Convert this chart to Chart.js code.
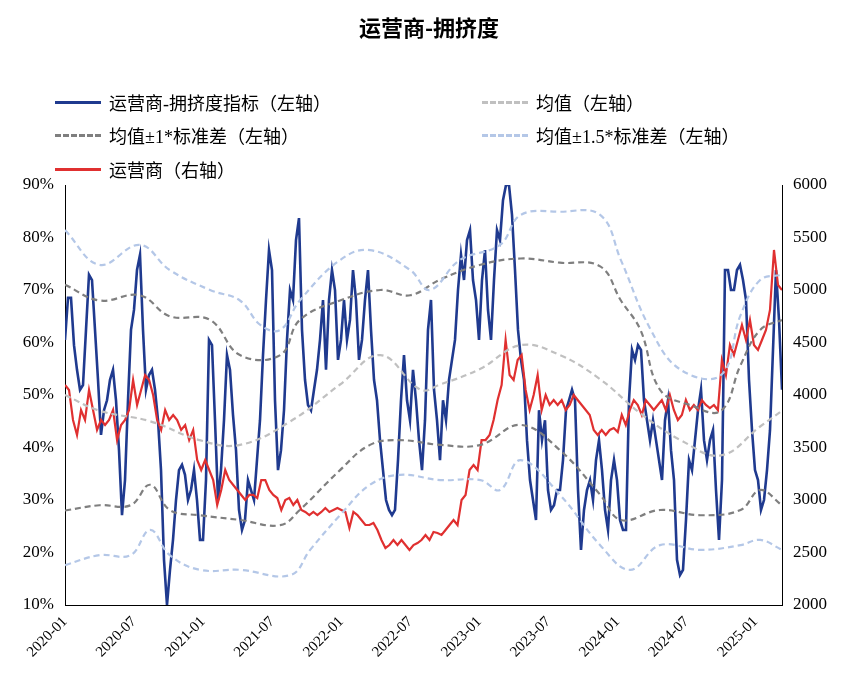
<!DOCTYPE html>
<html>
<head>
<meta charset="utf-8">
<script src="https://cdn.jsdelivr.net/npm/chart.js@4"></script>
<style>
body{margin:0;background:#fff;}
#wrap{position:relative;width:858px;height:694px;}
#title{position:absolute;top:10px;left:0;width:858px;text-align:center;font:bold 22px "Noto Sans CJK SC",serif;color:#000;}
.lg{position:absolute;font:18px "Liberation Serif","Noto Sans CJK SC";color:#000;display:flex;align-items:center;}
.ln{width:46px;height:0;margin-right:8px;}
</style>
</head>
<body>
<div id="wrap">
<div id="title">运营商-拥挤度</div>
<div class="lg" style="left:55px;top:89px"><span class="ln" style="border-top:3px solid #1f3a8f"></span>运营商-拥挤度指标（左轴）</div>
<div class="lg" style="left:482px;top:89px"><span class="ln" style="border-top:3px dashed #c0c0c0"></span>均值（左轴）</div>
<div class="lg" style="left:55px;top:122px"><span class="ln" style="border-top:3px dashed #7f7f7f"></span>均值±1*标准差（左轴）</div>
<div class="lg" style="left:482px;top:122px"><span class="ln" style="border-top:3px dashed #b4c7e7"></span>均值±1.5*标准差（左轴）</div>
<div class="lg" style="left:55px;top:156px"><span class="ln" style="border-top:3px solid #e03030"></span>运营商（右轴）</div>
<canvas id="c" width="858" height="694"></canvas>
</div>
<script>
/* DATA */

// months counted from 2020-01
const endMonth = 62.3;
const tickMonths = [0,6,12,18,24,30,36,42,48,54,60];

const crowding = [60.5,68.5,68.5,59.5,54.8,51,51.9,62.4,72.9,71.9,62.4,52.9,42.4,47.1,49,52.9,54.8,49,39.5,27.1,33.8,49,62.4,66.2,73.8,76.7,62.4,51,53.8,54.8,51,45.2,35.7,18.6,10,16.7,22.4,30,35.7,36.7,34.8,30,31.9,35.7,30,22.4,22.4,33.8,60.5,59.5,45.2,30,35.7,45.2,57.6,54.8,46.2,39.5,28.1,24.3,26.2,33.8,31.9,30,37.6,45.2,57.6,68.1,77.6,73.8,49,35.7,39.5,47.1,60.5,70,68.1,79.5,83.7,62.4,52.9,48.1,47.1,51,54.8,60.5,68.1,54.8,68.1,73.8,70,56.7,60.5,68.1,60.5,64.3,73.8,68.1,56.7,60.5,68.1,73.8,62.4,52.9,49,41.4,35.7,30,28.1,27.1,28.1,37.6,49,57.6,49,45.2,54.8,49,41.4,35.7,45.2,62.4,68.1,51,45.2,37.6,49,45.2,52.9,56.7,60.5,70,76.7,71.9,79.5,81.4,71.9,68.1,60.5,71.9,77.6,66.2,60.5,71.9,81.4,79.5,87.1,90,90,84.3,73.8,62.4,56.7,52.9,41.4,33.8,30,26.2,47.1,41.4,45.2,31.9,28.1,29,31.9,31.9,37.6,47.1,49,51,49,31.9,20.5,28.1,31.9,33.8,30,37.6,41.4,35.7,28.1,24.3,33.8,37.6,33.8,26.2,24.3,24.3,49,58.6,56.7,59.5,58.6,49,45.2,41.4,45.2,41.4,37.6,33.8,45.2,49,39.5,33.8,18.6,15.7,16.7,26.2,37.6,35.7,41.4,47.1,51,41.4,37.6,41.4,43.3,31.9,22.4,33.8,73.8,73.8,70,70,73.8,74.8,71.9,68.1,52.9,43.3,35.7,33.8,28.1,30,35.7,43.3,58.6,73.8,64.3,51];

const index = [4095,4048,3762,3619,3857,3762,4048,3857,3667,3762,3714,3762,3857,3571,3714,3762,3857,4143,3905,4048,4190,4143,4000,3762,3667,3857,3762,3810,3762,3667,3714,3571,3667,3381,3286,3381,3286,3190,2952,3095,3286,3190,3143,3095,3048,3000,3048,3048,3019,3190,3190,3095,3048,3019,2905,3000,3019,2952,3000,2905,2886,2857,2886,2857,2886,2924,2886,2905,2924,2905,2886,2733,2886,2857,2810,2762,2762,2781,2714,2619,2543,2571,2619,2571,2619,2571,2524,2571,2590,2619,2667,2619,2695,2686,2667,2714,2762,2810,2762,3000,3048,3286,3333,3286,3571,3571,3619,3762,3952,4095,4524,4190,4143,4333,4381,4048,3857,4000,4190,3857,4000,3905,3952,3905,3952,3857,3905,4000,3952,3905,3857,3810,3667,3619,3667,3619,3667,3686,3648,3810,3714,3857,3952,3905,3810,3952,3905,3857,3905,3952,3857,4000,3857,3762,3810,3952,3857,3905,3857,3952,3905,3876,3905,3857,4333,4190,4476,4381,4524,4667,4524,4714,4476,4429,4524,4619,4810,5381,5048,5000];

const meanMonths = [0,3,7.4,11.7,15.2,19.6,23.9,27.4,30.9,32.6,36.1,39.6,43,46.5,50,53.5,57,60.4,62.3];
const meanVals = [50,47,45,41.4,40.5,45,52,57.6,51,52,55,59.5,57.6,53,46.5,41.4,38.5,44,47];

const up1Months = [0,3,6.5,9.1,12.6,15.2,18.7,20.4,23.9,27.4,30,32.6,36.1,39.6,43,46.5,48.3,50,51.7,54.3,57,58.7,60.4,62.3];
const up1Vals = [71,68,69,65,64.3,57.6,57.6,64.3,68,70,69,72,74.8,76,75.2,74.5,68,62.4,51,48.1,47,55.7,62.4,64.3];

const lo1Months = [0,3,5.7,7.4,9.1,11.7,15.2,18.7,20.4,23.9,26.5,29.1,32.6,36.1,39.6,43,46.5,48.3,51.7,55.2,58.7,60.4,62.3];
const lo1Vals = [28,29,29,32.9,28.1,27.1,26.2,25.2,28.1,35.7,40.5,41.4,40.5,40.5,44.3,39.5,31,26.2,28.1,27.1,28.1,31.9,29];

const up15Months = [0,3,6.5,9.1,12.6,15.2,17,18.7,20.4,23.9,26.5,30,31.7,34.3,37.8,39.6,43,46.5,48.3,50.9,53.5,57,58.7,60.4,62.3];
const up15Vals = [81.4,74.8,78.6,73.8,70,68,63.3,62.4,68,75.7,77.6,73.8,70,75.7,78.6,84.3,84.9,84.3,75.7,62.4,54.8,53.8,65.2,71.9,72.9];

const lo15Months = [0,3,5.7,7.4,9.1,11.7,15.2,19.6,21.3,23.9,26.5,29.1,32.6,36.1,37.8,39.6,43,46.5,49.1,51.7,55.2,58.7,60.4,62.3];
const lo15Vals = [17.6,19.5,19.5,24.3,19.5,16.7,16.7,15.7,20.5,27.1,32.9,34.8,33.8,33.8,31.9,37.6,31,21.4,16.7,21.4,20.5,21.4,22.4,20.5];

/* BUILD POINTS */

function evenly(vals){
    return vals.map((v,i)=>({x:i*endMonth/(vals.length-1),y:v}));
}
function pairs(ms,vals){
    return ms.map((m,i)=>({x:m,y:vals[i]}));
}

const serif = "'Liberation Serif','Noto Sans CJK SC'";

function dashed(data,color,axis){
    return {data:data,borderColor:color,borderWidth:2.2,borderDash:[6,4],pointRadius:0,tension:0.4,yAxisID:axis||'y'};
}

new Chart(document.getElementById('c'),{
    type:'line',
    data:{
        datasets:[
            dashed(pairs(lo15Months,lo15Vals),'#b4c7e7'),
            dashed(pairs(up15Months,up15Vals),'#b4c7e7'),
            dashed(pairs(meanMonths,meanVals),'#c0c0c0'),
            dashed(pairs(lo1Months,lo1Vals),'#7f7f7f'),
            dashed(pairs(up1Months,up1Vals),'#7f7f7f'),
            {data:evenly(index),borderColor:'#e03030',borderWidth:2.2,pointRadius:0,tension:0,yAxisID:'y2'},
            {data:evenly(crowding),borderColor:'#1f3a8f',borderWidth:2.6,pointRadius:0,tension:0,yAxisID:'y'}
        ]
    },
    options:{
        responsive:false,
        animation:false,
        layout:{padding:{top:185,left:0,right:0,bottom:0}},
        plugins:{legend:{display:false},tooltip:{enabled:false}},
        scales:{
            x:{
                type:'linear',min:0,max:endMonth,
                grid:{display:false,drawTicks:true,tickLength:5},
                border:{color:'#000'},
                afterBuildTicks:s=>{s.ticks=tickMonths.map(v=>({value:v}));},
                ticks:{
                    maxRotation:45,minRotation:45,
                    color:'#000',font:{family:serif,size:15},
                    callback:v=>{
                        const y=2020+Math.floor(v/12), m=v%12+1;
                        return y+'-'+String(m).padStart(2,'0');
                    }
                },
                afterFit:s=>{s.height=89;}
            },
            y:{
                position:'left',min:10,max:90,
                grid:{display:false},
                border:{color:'#000'},
                ticks:{stepSize:10,color:'#000',font:{family:serif,size:17},callback:v=>v+'%'},
                afterFit:s=>{s.width=65;}
            },
            y2:{
                position:'right',min:2000,max:6000,
                grid:{display:false},
                border:{color:'#000'},
                ticks:{stepSize:500,color:'#000',font:{family:serif,size:17},callback:v=>String(v)},
                afterFit:s=>{s.width=76;}
            }
        }
    }
});
</script>
</body>
</html>
